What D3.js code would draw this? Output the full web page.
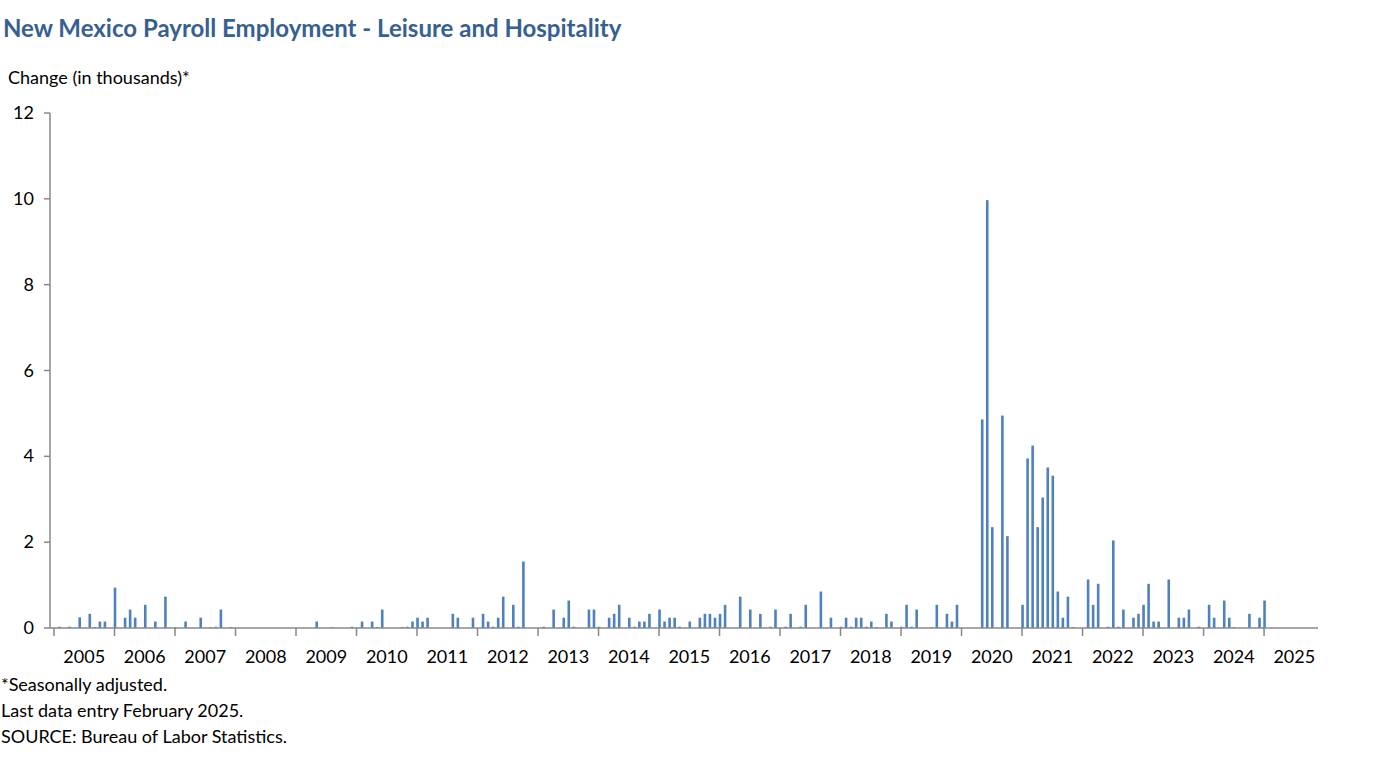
<!DOCTYPE html>
<html><head><meta charset="utf-8">
<script src="https://cdn.jsdelivr.net/npm/d3@7"></script>
<style>body{margin:0;background:#fff}text{font-family:Lato,"Open Sans",sans-serif}</style>
</head><body>
<script>
// monthly change (thousands), Jan..Dec, negatives shown as 0
const y2005 = [0,.03,0,.03,0,.25,0,.33,.02,.15,.15,0];
const y2006 = [.94,0,.24,.43,.24,0,.54,0,.15,0,.73,0];
const y2007 = [.02,0,.15,0,0,.24,0,.02,.03,.43,0,.02];
const y2008 = [0,0,0,0,0,0,0,0,0,0,0,0];
const y2009 = [0,0,0,0,.15,0,0,.02,0,0,0,.03];
const y2010 = [0,.15,0,.15,.02,.43,0,0,0,.02,.03,.15];
const y2011 = [.24,.15,.24,0,0,0,0,.33,.24,0,0,.24];
const y2012 = [0,.33,.15,.03,.24,.73,0,.54,.03,1.55,0,0];
const y2013 = [0,.03,0,.43,0,.24,.64,.03,0,0,.43,.43];
const y2014 = [.03,0,.24,.33,.54,0,.24,.03,.15,.15,.33,0];
const y2015 = [.43,.15,.24,.24,.03,0,.15,0,.24,.33,.33,.24];
const y2016 = [.33,.54,0,0,.73,0,.43,0,.33,0,.03,.43];
const y2017 = [0,.03,.33,0,.03,.54,0,0,.85,0,.24,0];
const y2018 = [.03,.24,.03,.24,.24,.03,.15,.02,0,.33,.15,0];
const y2019 = [.03,.54,.03,.43,0,0,.02,.54,0,.33,.15,.54];
const y2020 = [0,0,0,0,4.86,9.97,2.35,0,4.95,2.14,0,0];
const y2021 = [.54,3.95,4.25,2.35,3.04,3.74,3.55,.85,.24,.73,.02,0];
const y2022 = [0,1.13,.54,1.03,0,.03,2.04,.03,.43,0,.24,.33];
const y2023 = [.54,1.03,.15,.15,0,1.13,0,.24,.24,.43,0,.03];
const y2024 = [0,.54,.24,0,.64,.24,.02,0,0,.33,0,.24];
const y2025 = [.64];
const years = d3.range(2005, 2026);
const yTicks = [0,2,4,6,8,10,12];

const values = [].concat(y2005,y2006,y2007,y2008,y2009,y2010,y2011,y2012,y2013,y2014,
  y2015,y2016,y2017,y2018,y2019,y2020,y2021,y2022,y2023,y2024,y2025);

const svg = d3.select("body").append("svg").attr("width",1388).attr("height",768);
const x = d3.scaleLinear().domain([0,250.7]).range([54,1318]);
const y = d3.scaleLinear().domain([0,12]).range([628,113]);

svg.append("text").attr("x",3).attr("y",37).attr("font-size",24).attr("font-weight","bold")
  .attr("fill","#376092").text("New Mexico Payroll Employment - Leisure and Hospitality");
svg.append("text").attr("x",8).attr("y",84).attr("font-size",18).text("Change (in thousands)*");

svg.selectAll("rect.bar").data(values).enter().append("rect").attr("class","bar")
  .attr("x",(d,i)=>x(i)-0.8).attr("width",2.6)
  .attr("y",d=>y(d)).attr("height",d=>y(0)-y(d)).attr("fill","#4F81BD");

const grey = "#888";
svg.append("line").attr("x1",50).attr("x2",50).attr("y1",113).attr("y2",628).attr("stroke",grey).attr("stroke-width",1.5);
svg.append("line").attr("x1",50).attr("x2",1318).attr("y1",628).attr("y2",628).attr("stroke",grey).attr("stroke-width",1.5);
yTicks.forEach(t=>{
  svg.append("line").attr("x1",44).attr("x2",50).attr("y1",y(t)).attr("y2",y(t)).attr("stroke",grey).attr("stroke-width",1.5);
  svg.append("text").attr("x",34).attr("y",y(t)+6).attr("text-anchor","end").attr("font-size",18).text(t);
});
years.forEach((yr,k)=>{
  svg.append("line").attr("x1",x(k*12)).attr("x2",x(k*12)).attr("y1",628).attr("y2",636).attr("stroke",grey).attr("stroke-width",1.5);
  svg.append("text").attr("x",x(k*12+6)).attr("y",663).attr("text-anchor","middle").attr("font-size",18).text(yr);
});
["*Seasonally adjusted.","Last data entry February 2025.","SOURCE: Bureau of Labor Statistics."]
  .forEach((s,i)=>svg.append("text").attr("x",1).attr("y",691+i*26).attr("font-size",18).text(s));
</script>
</body></html>
